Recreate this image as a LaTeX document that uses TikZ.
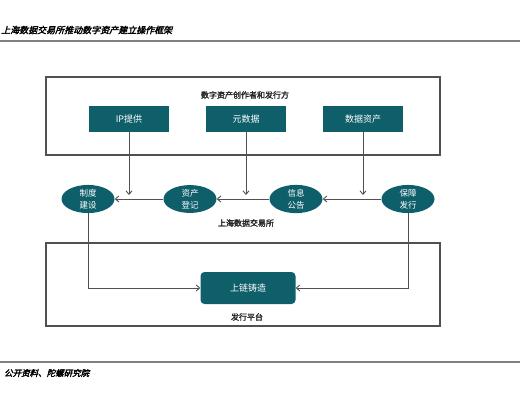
\documentclass[tikz,border=0pt]{standalone}
\usepackage{fontspec}
\usetikzlibrary{positioning, arrows.meta, calc, shapes.geometric}
\newfontfamily\cjk{Noto Sans CJK SC}
\newfontfamily\cjkslant[FakeSlant=0.25,FakeBold=2.5]{Noto Sans CJK SC}
\newfontfamily\cjkbold[FakeBold=2]{Noto Sans CJK SC}
\definecolor{teal}{HTML}{0F5F6B}
\definecolor{linegray}{HTML}{505050}

\tikzset{
    x=1pt, y=-1pt,
    frame/.style={draw=linegray, line width=1.1pt, minimum width=394pt},
    tealbox/.style={fill=teal, text=white, font=\cjk\fontsize{9}{11}\selectfont,
        minimum width=80pt, minimum height=26pt, inner sep=0pt},
    tealoval/.style={ellipse, fill=teal, text=white, align=center,
        font=\cjk\fontsize{8.5}{12}\selectfont,
        minimum width=53pt, minimum height=26pt, inner sep=0pt},
    caption/.style={font=\cjkbold\fontsize{8}{10}\selectfont, text=black!85},
    flow/.style={draw=linegray, line width=0.9pt, -{Straight Barb[length=3.5pt, width=6pt]}}
}

\begin{document}
\begin{tikzpicture}
    \useasboundingbox (0,0) rectangle (520,400);

    % heading and source
    \node (title) [anchor=west, inner sep=0pt, font=\cjkslant\fontsize{9}{11}\selectfont] at (1,30)
        {上海数据交易所推动数字资产建立操作框架};
    \draw [black!50, line width=2pt] (0,41) -- (520,41);
    \draw [black!50, line width=2pt] (0,362) -- (520,362);
    \node (src) [anchor=west, inner sep=0pt, font=\cjkslant\fontsize{8.5}{10}\selectfont] at (4,373)
        {公开资料、陀螺研究院};

    % the two frames
    \node (creators) [frame, minimum height=78pt] at (243,116) {};
    \node (platform) [frame, minimum height=83pt] at (243,284.5) {};

    % upper row
    \node (ip) [tealbox] at (129,119) {IP提供};
    \node (meta) [tealbox] at (246,119) {元数据};
    \node (asset) [tealbox] at (363,119) {数据资产};
    \node (crtitle) [caption] at (245,95) {数字资产创作者和发行方};

    % exchange row
    \node (rule) [tealoval] at (88,199) {制度\\建设};
    \node (reg) [tealoval] at (190,199) {资产\\登记};
    \node (notice) [tealoval] at (296,199) {信息\\公告};
    \node (issue) [tealoval] at (408,199) {保障\\发行};
    \node (exch) [caption] at (246,223) {上海数据交易所};

    % platform
    \node (mint) [fill=teal, text=white, rounded corners=4pt, minimum width=95pt,
        minimum height=32pt, font=\cjk\fontsize{9}{11}\selectfont] at (248,288) {上链铸造};
    \node (pftitle) [caption] at (247,317) {发行平台};

    % joints on the exchange line
    \coordinate (j1) at (129,195);
    \coordinate (j2) at (246,195);
    \coordinate (j3) at (363,195);

    % draw the edges
    \draw [flow] (ip) -- (j1);
    \draw [flow] (meta) -- (j2);
    \draw [flow] (asset) -- (j3);

    \draw [flow] (issue) -- (notice);
    \draw [flow] (notice) -- (reg);
    \draw [flow] (reg) -- (rule);

    \draw [flow] (rule) |- (mint);
    \draw [flow] (issue) |- (mint);
\end{tikzpicture}
\end{document}
